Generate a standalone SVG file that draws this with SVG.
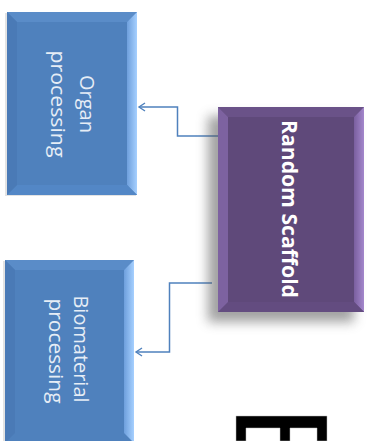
<svg xmlns="http://www.w3.org/2000/svg" width="373" height="441" viewBox="0 0 373 441">
<defs>
<style>
.conn{fill:none;stroke:#4f81bd;stroke-width:1.5}
.lbl{font-family:"Open Sans","Liberation Sans",sans-serif;font-size:20px;fill:#e6edf6;text-anchor:middle}
.lblb{font-family:"Open Sans","Liberation Sans",sans-serif;font-size:22px;font-weight:bold;fill:#ffffff;text-anchor:middle}
</style>
<linearGradient id="gBlueR" x1="0" y1="0" x2="1" y2="0"><stop offset="0" stop-color="#6e9fdc"/><stop offset="1" stop-color="#a6d0ff"/></linearGradient>
<linearGradient id="gPurR" x1="0" y1="0" x2="1" y2="0"><stop offset="0" stop-color="#7a5f9f"/><stop offset="1" stop-color="#a487cc"/></linearGradient>
<filter id="sh" x="-30%" y="-30%" width="160%" height="160%"><feGaussianBlur stdDeviation="6"/></filter>
<marker id="arr" markerWidth="10" markerHeight="10" refX="8" refY="5" orient="auto" markerUnits="userSpaceOnUse"><path d="M2,1 L8,5 L2,9" fill="none" stroke="#4f81bd" stroke-width="1.4"/></marker>
</defs>
<rect width="373" height="441" fill="#ffffff"/>

<g id="connectors">
<path class="conn" d="M218,136 H177.5 V107 H139" marker-end="url(#arr)"/>
<path class="conn" d="M212,283 H169.5 V352 H136" marker-end="url(#arr)"/>
</g>

<g id="organ">
<rect x="5" y="13" width="131" height="183" fill="#c8c8c8" opacity="0.5"/>
<rect x="7" y="12" width="130" height="183" fill="#4f81bd"/>
<polygon points="7,12 137,12 127,22 17,22" fill="#5a8cc8"/>
<polygon points="137,12 137,195 127,185 127,22" fill="url(#gBlueR)"/>
<polygon points="7,195 137,195 127,185 17,185" fill="#5387c6"/>
<polygon points="7,12 17,22 17,185 7,195" fill="#4a7ab6"/>
<text class="lbl" transform="translate(80,104) rotate(90)" textLength="58" lengthAdjust="spacingAndGlyphs">Organ</text>
<text class="lbl" transform="translate(51,104) rotate(90)" textLength="107" lengthAdjust="spacingAndGlyphs">processing</text>
</g>

<g id="biomaterial">
<rect x="3" y="261" width="131" height="183" fill="#c8c8c8" opacity="0.5"/>
<rect x="5" y="260" width="129" height="183" fill="#4f81bd"/>
<polygon points="5,260 134,260 124,270 15,270" fill="#5a8cc8"/>
<polygon points="134,260 134,443 124,433 124,270" fill="url(#gBlueR)"/>
<polygon points="5,260 15,270 15,433 5,443" fill="#4a7ab6"/>
<text class="lbl" transform="translate(74,349) rotate(90)" textLength="107" lengthAdjust="spacingAndGlyphs">Biomaterial</text>
<text class="lbl" transform="translate(49,351) rotate(90)" textLength="105" lengthAdjust="spacingAndGlyphs">processing</text>
</g>

<g id="scaffold">
<rect x="208" y="116" width="146" height="206" fill="#555" opacity="0.55" filter="url(#sh)"/>
<rect x="218" y="107" width="146" height="205" fill="#5f497a"/>
<polygon points="218,107 364,107 354,117 228,117" fill="#6a5288"/>
<polygon points="364,107 364,312 354,302 354,117" fill="url(#gPurR)"/>
<polygon points="218,312 364,312 354,302 228,302" fill="#634c80"/>
<polygon points="218,107 228,117 228,302 218,312" fill="#7d62a0"/>
<text class="lblb" transform="translate(282,209) rotate(90)" textLength="178" lengthAdjust="spacingAndGlyphs">Random Scaffold</text>
</g>

<path d="M236,416 H327 V441 H317 V428 H290 V441 H280 V428 H246 V441 H236 Z" fill="#000000" stroke="#bbbbbb" stroke-width="0.5"/>
</svg>
